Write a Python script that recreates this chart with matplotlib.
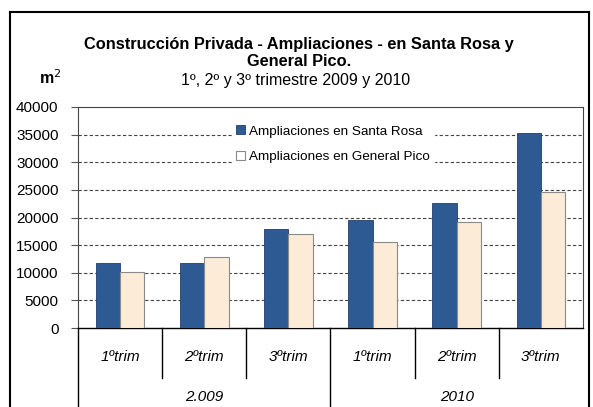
import matplotlib.pyplot as plt
from matplotlib.lines import Line2D
import numpy as np

plt.rcParams['font.family'] = ['Liberation Sans', 'DejaVu Sans']

categories = ['1ºtrim', '2ºtrim', '3ºtrim', '1ºtrim', '2ºtrim', '3ºtrim']
groups = ['2.009', '2010']
santa_rosa = [11700, 11700, 18000, 19600, 22600, 35300]
general_pico = [10200, 12800, 17000, 15600, 19100, 24700]
yticks = [0, 5000, 10000, 15000, 20000, 25000, 30000, 35000, 40000]

blue = '#2E5A93'
cream = '#FCEBD7'

W, H = 593, 407
fig = plt.figure(figsize=(W / 100, H / 100), dpi=100)

# outer chart frame
fig.add_artist(Line2D([10 / W, 10 / W], [0, 1 - 12 / H], color='black', lw=1.5))
fig.add_artist(Line2D([10 / W, 589 / W], [1 - 12 / H, 1 - 12 / H], color='black', lw=1.5))
fig.add_artist(Line2D([589 / W, 589 / W], [0, 1 - 12 / H], color='black', lw=1.5))

left, right, top, bottom = 78, 583, 107, 328
ax = fig.add_axes([left / W, 1 - bottom / H, (right - left) / W, (bottom - top) / H])

x = np.arange(len(categories))
bw = 0.29
ax.bar(x - bw / 2, santa_rosa, bw, color=blue, edgecolor='#1F3F6B', lw=0.6,
       label='Ampliaciones en Santa Rosa', zorder=3)
ax.bar(x + bw / 2, general_pico, bw, color=cream, edgecolor='#8A8A8A', lw=0.8,
       label='Ampliaciones en General Pico', zorder=3)

ax.set_xlim(-0.5, len(categories) - 0.5)
ax.set_ylim(0, 40000)
ax.set_yticks(yticks)
ax.set_yticklabels([str(v) for v in yticks], fontsize=11)
ax.set_xticks([])
ax.tick_params(axis='y', length=5, width=0.8, color='#555555', pad=9)
for v in yticks[1:-1]:
    ax.axhline(v, color='#444444', lw=0.8, ls=(0, (3, 2)), zorder=1)

for s in ['top', 'right', 'left']:
    ax.spines[s].set_color('#444444')
    ax.spines[s].set_linewidth(0.8)
ax.spines['bottom'].set_color('black')
ax.spines['bottom'].set_linewidth(1.0)

# category table below axis
trans = ax.get_xaxis_transform()
for i in range(1, len(categories)):
    y0 = -0.36 if i == 3 else -0.226
    ax.add_line(Line2D([i - 0.5, i - 0.5], [0, y0], transform=trans, color='black',
                       lw=1.0, clip_on=False))
ax.add_line(Line2D([-0.5, -0.5], [0, -0.36], transform=trans, color='black', lw=1.0,
                   clip_on=False))
for i, c in enumerate(categories):
    ax.text(i, -0.13, c, transform=trans, ha='center', va='center', fontsize=11,
            style='italic')
for g, gx in zip(groups, [1, 4]):
    ax.text(gx, -0.31, g, transform=trans, ha='center', va='center', fontsize=11,
            style='italic')

leg = ax.legend(loc='upper left', bbox_to_anchor=(0.305, 0.935), fontsize=9.7,
                frameon=True, framealpha=1, edgecolor='white', fancybox=False,
                handlelength=0.65, handleheight=0.65, handletextpad=0.3,
                labelspacing=1.0, borderpad=0.3, borderaxespad=0)
leg.legend_handles[1].set_facecolor('white')
leg.set_zorder(5)

fig.text(299 / W, 1 - 45 / H, 'Construcción Privada - Ampliaciones - en Santa Rosa y',
         ha='center', va='center', fontsize=11.8, fontweight='bold')
fig.text(299 / W, 1 - 62 / H, 'General Pico.', ha='center', va='center',
         fontsize=11.8, fontweight='bold')
fig.text(296 / W, 1 - 80 / H, '1º, 2º y 3º trimestre 2009 y 2010', ha='center',
         va='center', fontsize=11.5)
fig.text(50 / W, 1 - 78 / H, 'm$^2$', ha='center', va='center', fontsize=11.5,
         fontweight='bold')

fig.savefig('out.png', dpi=100)
